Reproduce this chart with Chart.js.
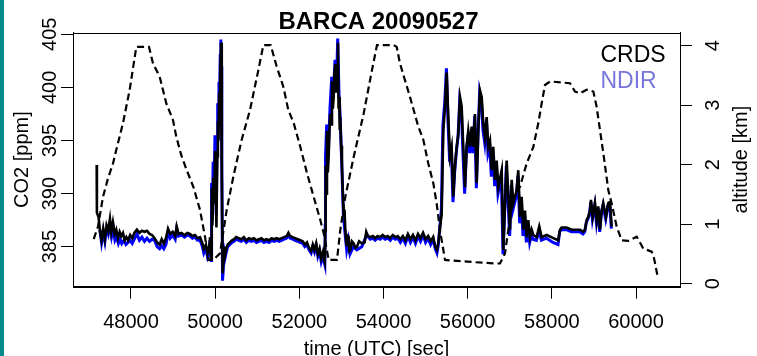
<!DOCTYPE html>
<html><head><meta charset="utf-8">
<script src="https://cdn.jsdelivr.net/npm/chart.js@4.4.0/dist/chart.umd.min.js"></script>
<style>
html,body{margin:0;padding:0;background:#fff;}
#wrap{position:relative;width:757px;height:356px;background:#fff;}
#bar{position:absolute;left:0;top:0;width:4px;height:356px;background:#068a8a;}
canvas{position:absolute;left:0;top:0;}
</style></head><body>
<div id="wrap"><canvas id="c" width="757" height="356"></canvas><div id="bar"></div></div>
<script>
// ---- data: [time (UTC) sec, value] ----
const chartTitle = 'BARCA 20090527';
const legendLabels = ['CRDS', 'NDIR'];
const xTicks = [48000, 50000, 52000, 54000, 56000, 58000, 60000];
const yTicks = [385, 390, 395, 400, 405];
const altTicks = [0, 1, 2, 3, 4];

const crds = [
[47185,392.7],[47190,388.2],[47230,387.8],[47265,386.4],[47300,385.6],[47340,386.7],[47380,385.7],[47420,387.0],[47460,386.5],[47500,387.6],
[47530,386.4],[47570,387.3],[47610,386.2],[47650,386.6],[47690,385.8],[47730,386.4],[47770,386.0],[47810,386.3],[47850,385.6],[47890,385.9],
[47930,385.6],[47980,386.1],[48030,385.8],[48080,386.3],[48140,386.6],[48200,386.3],[48260,386.5],[48320,386.4],[48380,386.5],[48440,386.2],
[48500,386.1],[48560,385.8],[48620,385.4],[48680,385.2],[48730,385.7],[48780,385.3],[48830,385.8],[48880,386.7],[48930,386.2],[48990,386.4],
[49050,386.0],[49085,386.9],[49130,386.2],[49200,386.3],[49270,386.1],[49340,386.3],[49400,386.2],[49460,386.0],[49520,386.1],[49580,385.8],
[49640,385.9],[49690,385.4],[49730,384.8],[49780,385.2],[49820,384.3],
[49850,384.6],[49880,385.9],[49905,383.9],[49918,390.5],[49935,387.0],[49955,391.5],[49975,389.0],[50000,394.0],[50015,391.0],[50030,386.8],
[50050,393.5],[50065,396.8],[50080,395.0],[50095,399.5],[50110,398.0],[50125,402.0],[50140,404.2],[50152,401.5],[50162,392.0],[50178,382.5],
[50195,383.5],[50215,385.0],[50240,384.3],[50270,384.9],
[50300,385.2],[50350,385.4],[50400,385.6],[50450,385.7],[50500,385.9],[50560,385.8],[50620,385.7],[50680,385.9],[50740,385.6],[50800,385.8],
[50860,385.7],[50920,385.8],[50980,385.6],[51040,385.7],[51100,385.8],[51160,385.6],[51220,385.7],[51280,385.6],[51340,385.8],[51400,385.7],
[51460,385.8],[51520,385.7],[51580,385.8],[51640,385.9],[51700,386.0],[51740,386.3],[51780,386.0],[51840,385.9],[51900,385.8],[51960,385.7],
[52020,385.6],[52080,385.5],[52130,385.2],[52180,385.4],[52230,384.9],[52280,384.6],[52320,385.2],[52360,384.7],[52400,385.3],[52440,384.3],
[52480,384.8],[52520,383.9],[52560,384.5],
[52580,384.0],[52605,383.6],[52617,386.5],[52625,392.6],[52640,390.0],[52657,395.9],[52677,392.0],[52697,393.5],[52715,396.0],[52735,397.5],
[52755,396.5],[52776,400.6],[52796,398.0],[52816,399.1],[52835,401.5],[52854,402.2],[52875,399.5],[52895,400.6],[52918,404.2],[52932,398.0],
[52949,399.1],[52960,396.0],[52973,397.2],[52993,394.5],[53013,392.6],[53033,390.0],[53054,387.8],[53073,388.5],[53092,386.6],[53112,385.5],
[53132,385.0],[53150,386.0],[53173,385.9],[53190,384.6],[53211,384.7],[53250,385.5],[53291,385.3],[53330,384.9],[53370,385.0],[53420,385.5],
[53489,385.3],[53550,385.4],[53590,386.4],[53630,386.0],[53686,385.9],
[53750,386.0],[53800,385.8],[53860,386.0],[53920,385.9],[53980,386.1],[54040,385.9],[54100,386.0],[54160,385.8],[54220,386.1],[54280,385.9],
[54340,386.0],[54400,385.7],[54460,386.0],[54520,385.6],[54580,386.2],[54640,385.7],[54700,386.1],[54760,385.6],[54820,386.2],[54880,385.8],
[54940,386.3],[55000,385.7],[55060,386.0],[55120,385.5],[55180,385.9],[55230,385.0],[55270,384.7],[55300,385.3],
[55382,388.1],[55420,395.9],[55461,398.2],[55501,401.4],[55539,397.2],[55579,393.5],[55619,394.4],[55658,389.7],[55698,392.6],[55739,394.4],
[55777,395.6],[55817,399.1],[55857,398.2],[55895,394.4],[55936,390.6],[55976,394.4],[56014,395.9],[56055,394.4],[56095,396.3],[56133,394.4],
[56173,397.5],[56214,391.0],[56252,395.9],[56292,399.7],[56333,399.1],[56370,396.6],[56411,395.3],[56451,397.2],[56489,394.4],[56530,395.0],
[56570,392.2],[56608,394.4],[56649,391.3],[56689,393.1],[56727,390.6],[56808,392.2],[56846,384.7],[56926,393.1],[57005,386.6],[57045,391.3],
[57083,389.1],[57164,390.3],[57202,392.2],[57243,387.8],[57283,389.7],[57321,386.6],[57361,388.4],[57402,385.9],[57440,387.5],[57480,385.9],
[57520,386.6],[57559,386.1],[57639,385.9],[57701,386.9],[57758,385.9],[57877,386.1],[58034,385.8],[58153,385.6],[58193,386.6],[58233,386.8],
[58352,386.8],[58471,386.6],[58668,386.6],[58747,386.4],[58787,386.6],[58827,387.5],[58865,387.8],[58906,388.4],[58930,389.4],[58970,387.8],
[59025,389.1],[59065,387.5],[59103,388.8],[59144,386.6],[59184,388.4],[59222,389.1],[59286,387.8],[59341,389.1],[59381,389.2],[59421,386.9]
];

const ndir = [
[47260,386.6],[47300,385.4],[47340,386.4],[47380,385.5],[47420,386.7],[47460,386.2],[47500,387.2],[47540,386.0],[47580,386.8],[47620,385.6],
[47660,385.9],[47700,385.3],[47740,385.7],[47780,385.3],[47830,385.6],[47880,385.2],[47930,385.4],[47980,385.6],[48030,385.3],[48090,385.8],
[48140,386.2],[48200,385.6],[48260,385.9],[48320,385.5],[48380,385.8],[48440,385.5],[48500,385.7],[48560,385.6],[48620,385.0],[48680,384.8],
[48730,385.1],[48780,384.8],[48830,385.2],[48880,386.3],[48930,385.8],[48990,386.1],[49050,385.7],[49085,386.7],[49130,386.0],[49200,386.1],
[49270,385.9],[49340,386.1],[49400,386.0],[49460,385.8],[49520,385.9],[49580,385.6],[49640,385.6],[49690,385.1],[49730,384.4],[49780,384.9],
[49820,384.0],
[49850,384.3],[49880,385.6],[49905,383.7],[49915,391.0],[49932,387.5],[49952,393.0],[49972,390.0],[49995,395.5],[50010,392.0],[50025,388.0],
[50045,395.0],[50060,398.5],[50075,396.5],[50090,400.5],[50105,399.0],[50120,403.0],[50135,404.5],[50148,402.0],[50158,393.0],[50175,381.8],
[50192,382.8],[50212,384.6],[50238,384.0],[50270,384.6],
[50300,385.0],[50350,385.2],[50400,385.4],[50450,385.5],[50500,385.7],[50560,385.6],[50620,385.5],[50680,385.7],[50740,385.4],[50800,385.6],
[50860,385.5],[50920,385.6],[50980,385.4],[51040,385.5],[51100,385.6],[51160,385.4],[51220,385.5],[51280,385.4],[51340,385.6],[51400,385.5],
[51460,385.6],[51520,385.5],[51580,385.6],[51640,385.7],[51700,385.8],[51740,386.1],[51780,385.8],[51840,385.7],[51900,385.6],[51960,385.5],
[52020,385.4],[52080,385.3],[52130,385.0],[52180,385.2],[52230,384.7],[52280,384.4],[52320,385.0],[52360,384.5],[52400,385.1],[52440,384.1],
[52480,384.6],[52520,383.6],[52560,384.2],
[52580,383.7],[52605,383.3],[52615,387.0],[52622,393.5],[52650,396.5],[52690,394.0],[52728,398.0],[52770,401.0],[52810,399.5],[52848,402.6],
[52888,401.0],[52912,404.6],[52942,399.5],[52966,397.6],[53006,393.0],[53047,388.0],[53085,386.3],[53125,384.7],[53166,385.6],[53205,384.3],
[53285,385.0],[53365,384.7],[53485,385.0],[53600,386.1],[53686,385.7],
[53750,385.8],[53800,385.6],[53860,385.8],[53920,385.7],[53980,385.9],[54040,385.7],[54100,385.8],[54160,385.6],[54220,385.9],[54280,385.7],
[54340,385.8],[54400,385.4],[54460,385.8],[54520,385.3],[54580,386.0],[54640,385.4],[54700,385.9],[54760,385.3],[54820,386.0],[54880,385.5],
[54940,386.1],[55000,385.4],[55060,385.8],[55120,385.2],[55180,385.7],[55230,384.8],[55270,384.4],[55300,385.1],
[55375,388.5],[55412,396.5],[55455,398.6],[55495,401.8],[55532,396.8],[55572,393.0],[55612,394.0],[55651,389.2],[55690,392.0],[55732,394.0],
[55770,395.3],[55810,398.7],[55850,397.8],[55888,393.8],[55928,390.0],[55970,394.0],[56008,395.5],[56048,393.8],[56088,396.0],[56126,393.8],
[56166,397.3],[56206,390.5],[56245,395.5],[56285,399.6],[56326,398.8],[56363,396.0],[56404,394.8],[56444,397.0],[56482,393.8],[56523,394.5],
[56563,391.6],[56601,393.8],[56642,390.7],[56682,392.6],[56720,390.0],[56800,391.6],[56840,384.3],[56918,392.6],[56998,386.0],[57038,390.8],
[57076,388.5],[57157,389.8],[57195,391.7],[57236,387.2],[57276,389.2],[57314,386.0],[57354,387.9],[57395,385.4],[57433,387.0],[57473,385.4],
[57513,386.1],[57552,385.7],[57632,385.6],[57694,386.5],[57751,385.6],[57870,385.8],[58027,385.4],[58146,385.2],[58186,386.4],[58226,386.6],
[58345,386.6],[58464,386.4],[58661,386.4],[58740,386.2],[58780,386.4],[58820,387.3],[58858,387.6],[58899,388.2],[58923,389.2],[58963,387.6],
[59018,388.9],[59058,387.3],[59096,388.6],[59137,386.4],[59177,388.2],[59215,388.9],[59279,387.6],[59334,388.9],[59374,389.0],[59414,386.7]
];

const altitude = [
[47114,0.75],[47216,0.96],[47335,1.46],[47453,1.77],[47572,2.02],[47651,2.25],[47810,2.70],[47969,3.26],[48126,3.98],[48428,3.98],
[48523,3.70],[48681,3.48],[48839,3.03],[48998,2.75],[49077,2.47],[49195,2.16],[49323,1.91],[49481,1.63],[49640,1.24],[49758,0.79],
[49838,0.40],[49956,0.40],[50115,0.51],[50274,1.24],[50432,1.80],[50630,2.42],[50828,2.92],[51026,3.59],[51145,4.01],[51320,4.01],
[51462,3.65],[51620,3.31],[51738,2.92],[51866,2.70],[52023,2.30],[52182,1.86],[52341,1.46],[52498,1.07],[52578,0.85],[52697,0.40],
[52894,0.40],[52973,0.90],[53092,1.46],[53291,2.13],[53529,2.86],[53726,3.59],[53845,4.01],[54242,4.01],[54313,3.98],[54392,3.70],
[54510,3.42],[54629,3.14],[54827,2.64],[54946,2.42],[55064,2.02],[55183,1.69],[55263,1.35],[55342,0.90],[55421,0.57],[55461,0.40],
[56000,0.37],[56649,0.34],[56767,0.34],[56886,0.51],[56965,0.90],[57084,1.46],[57243,1.63],[57401,2.02],[57560,2.30],[57679,2.70],
[57758,3.03],[57837,3.34],[57956,3.40],[58431,3.37],[58550,3.23],[58669,3.20],[58828,3.26],[58986,3.23],[59065,2.97],[59144,2.58],
[59224,2.19],[59342,1.57],[59421,1.35],[59540,0.96],[59659,0.73],[59818,0.72],[60016,0.79],[60174,0.59],[60372,0.54],[60427,0.43],
[60506,0.15]
];

// ---- drawing ----
const FONT = "'Liberation Sans', Arial, Helvetica, sans-serif";
const NDIR_TEXT = '#7676dc';
const toPts = arr => arr.map(p => ({x: p[0], y: p[1]}));

const extras = {
  id: 'extras',
  afterDraw(chart) {
    const {ctx, chartArea: a} = chart;
    ctx.save();
    ctx.strokeStyle = '#000';
    ctx.lineWidth = 1;
    ctx.strokeRect(Math.round(a.left) + 0.5, Math.round(a.top) + 0.5,
                   Math.round(a.right) - Math.round(a.left), Math.round(a.bottom) - Math.round(a.top));
    ctx.font = '23px ' + FONT;
    ctx.textAlign = 'left';
    ctx.textBaseline = 'alphabetic';
    ctx.fillStyle = '#000';
    ctx.fillText(legendLabels[0], 600.5, 61.7);
    ctx.fillStyle = NDIR_TEXT;
    ctx.fillText(legendLabels[1], 600.5, 88.3);
    ctx.translate(741, (a.top + a.bottom) / 2);
    ctx.rotate(-Math.PI / 2);
    ctx.font = '20px ' + FONT;
    ctx.textAlign = 'center';
    ctx.textBaseline = 'middle';
    ctx.fillStyle = '#000';
    ctx.fillText('altitude [km]', 0, 0);
    ctx.restore();
  }
};

const gridOpts = {drawOnChartArea: false, drawTicks: true, tickLength: 12, color: '#000', lineWidth: 1};
const borderOpts = {display: true, color: '#000', width: 1};

new Chart(document.getElementById('c'), {
  type: 'line',
  data: {
    datasets: [
      {label: 'altitude', data: toPts(altitude), yAxisID: 'y2', borderColor: '#000', borderWidth: 2.2,
       borderDash: [7, 4], pointRadius: 0, fill: false, tension: 0},
      {label: legendLabels[0], data: toPts(crds), yAxisID: 'y', borderColor: '#000', borderWidth: 2.6,
       pointRadius: 0, fill: false, tension: 0},
      {label: legendLabels[1], data: toPts(ndir), yAxisID: 'y', borderColor: '#0000ff', borderWidth: 3,
       pointRadius: 0, fill: false, tension: 0}
    ]
  },
  options: {
    responsive: false, animation: false, devicePixelRatio: 1,
    layout: {padding: 0},
    plugins: {
      legend: {display: false},
      tooltip: {enabled: false},
      title: {display: true, text: chartTitle, color: '#000',
              font: {family: FONT, size: 24, weight: 'bold', lineHeight: 0.8},
              padding: {top: 12.4, bottom: 0.9}}
    },
    scales: {
      x: {
        type: 'linear', position: 'bottom', min: 46622, max: 61045,
        afterBuildTicks: s => { s.ticks = xTicks.map(v => ({value: v})); },
        ticks: {includeBounds: false, autoSkip: false, maxRotation: 0, minRotation: 0, color: '#000',
                font: {family: FONT, size: 20}, padding: 11.8, callback: v => String(v)},
        grid: gridOpts, border: borderOpts,
        title: {display: true, text: 'time (UTC) [sec]', color: '#000', font: {family: FONT, size: 20},
                padding: {top: 0, bottom: -5}},
        afterFit: s => { s.height = 69.3; }
      },
      y: {
        type: 'linear', position: 'left', min: 381.23, max: 405.17,
        afterBuildTicks: s => { s.ticks = yTicks.map(v => ({value: v})); },
        ticks: {minRotation: 90, maxRotation: 90, crossAlign: 'center', autoSkip: false, color: '#000',
                font: {family: FONT, size: 20}, padding: -5.7, callback: v => String(v)},
        grid: gridOpts, border: borderOpts,
        title: {display: true, text: 'CO2 [ppm]', color: '#000', font: {family: FONT, size: 20},
                padding: {top: 10.3, bottom: 0}},
        afterFit: s => { s.width = 73; }
      },
      y2: {
        type: 'linear', position: 'right', min: -0.05, max: 4.222,
        afterBuildTicks: s => { s.ticks = altTicks.map(v => ({value: v})); },
        ticks: {minRotation: 90, maxRotation: 90, crossAlign: 'center', autoSkip: false, color: '#000',
                font: {family: FONT, size: 20}, padding: 16.4, callback: v => String(v)},
        grid: gridOpts, border: borderOpts,
        afterFit: s => { s.width = 77; }
      }
    }
  },
  plugins: [extras]
});
</script>
</body></html>
